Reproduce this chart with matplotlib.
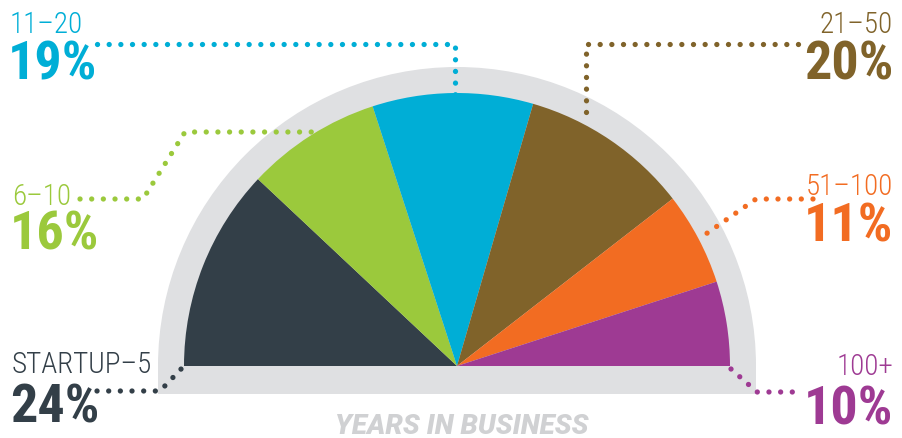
import matplotlib
matplotlib.use("Agg")
import matplotlib.pyplot as plt
from matplotlib.patches import Wedge, Rectangle

# data
categories = ["STARTUP\u20135", "6\u201310", "11\u201320", "21\u201350", "51\u2013100", "100+"]
shares = [24, 16, 19, 20, 11, 10]
colors = ["#333f48", "#9bc93c", "#00aed6", "#80632a", "#f26c22", "#9e3a93"]
title = "YEARS IN BUSINESS"

W, H = 902, 439
narrow = ["Roboto Condensed", "DejaVu Sans Condensed", "Liberation Sans Narrow", "Roboto"]

fig = plt.figure(figsize=(W / 100, H / 100), dpi=100)
ax = fig.add_axes([0, 0, 1, 1])
ax.set_xlim(0, W)
ax.set_ylim(H, 0)  # pixel-like coords, y down
ax.axis("off")

cx, cy = 457, 367
r_in, r_out = 273, 299
gray = "#dfe0e2"

# gray backdrop: half disc plus a band under the baseline
# (y axis is inverted, so the upper half is theta 180..360)
ax.add_patch(Wedge((cx, cy), r_out, 180, 360, color=gray, lw=0))
ax.add_patch(Rectangle((cx - r_out, cy), 2 * r_out, 28, color=gray, lw=0))

# wedges from left (startup) to right (100+)
total = sum(shares)
start = 180.0
for s, c in zip(shares, colors):
    span = 180.0 * s / total
    ax.add_patch(Wedge((cx, cy), r_in, start, start + span, color=c, lw=0))
    start += span

# leader lines (dotted) and labels
leaders = [
    [(97, 392), (160, 392), (183, 368)],
    [(80, 200), (143, 200), (185, 133), (312, 133)],
    [(97, 45), (455, 45), (455, 96)],
    [(798, 45), (586, 45), (586, 122)],
    [(813, 200), (756, 200), (703, 237)],
    [(731, 370), (757, 393), (803, 393)],
]
label_pos = [
    (12, 373, 423, "left"),
    (12, 205, 250, "left"),
    (10, 33, 80, "left"),
    (893, 33, 80, "right"),
    (893, 195, 242, "right"),
    (893, 375, 425, "right"),
]

for pts, c in zip(leaders, colors):
    xs = [p[0] for p in pts]
    ys = [p[1] for p in pts]
    ax.plot(xs, ys, color=c, lw=3.8, dashes=(0.01, 2.2),
            dash_capstyle="round", solid_capstyle="round", zorder=3)

for name, s, c, (x, y1, y2, ha) in zip(categories, shares, colors, label_pos):
    ax.text(x, y1, name, color=c, ha=ha, va="baseline", fontsize=21,
            family=narrow, fontweight="light")
    ax.text(x - (2 if ha == "left" else 0), y2, f"{s}%", color=c, ha=ha,
            va="baseline", fontsize=39, fontweight="bold", family=narrow)

ax.text(462, 434, title, color="#d0d1d3", ha="center", va="baseline",
        fontsize=20, fontweight="heavy", fontstyle="italic",
        family=["Roboto", "DejaVu Sans"])

fig.savefig("out.png", dpi=100)
